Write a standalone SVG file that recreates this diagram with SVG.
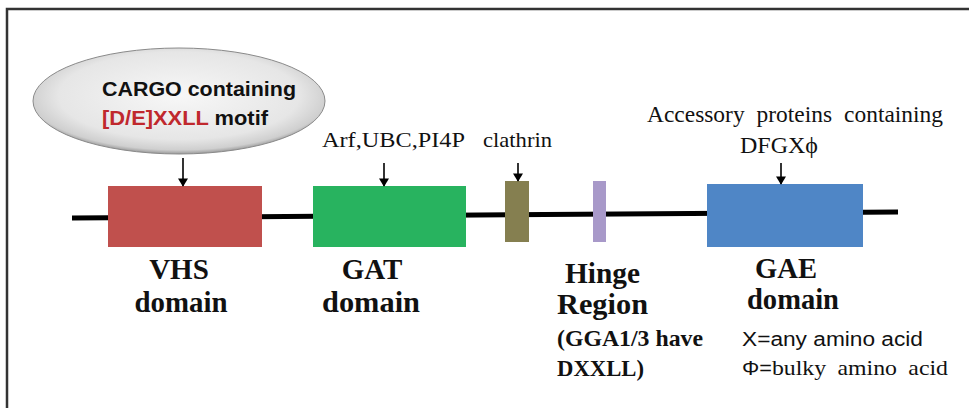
<svg xmlns="http://www.w3.org/2000/svg" width="969" height="408" viewBox="0 0 969 408">
<style>
.serif{font-family:"Liberation Serif","Times New Roman",serif;fill:#111}
.b{font-weight:bold}
.sans{font-family:"Liberation Sans",Arial,sans-serif;fill:#111}
.arrow{stroke:#000;stroke-width:1.6;fill:none;marker-end:url(#ah)}
</style>
<defs>
<marker id="ah" viewBox="0 0 10 12" refX="9" refY="6" markerWidth="12" markerHeight="10" markerUnits="userSpaceOnUse" orient="auto">
<path d="M0,0 L10,6 L0,12 z" fill="#000"/>
</marker>
<radialGradient id="eg" cx="0.5" cy="0.45" r="0.55">
<stop offset="0" stop-color="#f7f7f7"/>
<stop offset="0.75" stop-color="#e6e6e6"/>
<stop offset="0.93" stop-color="#cfcfcf"/>
<stop offset="1" stop-color="#9a9a9a"/>
</radialGradient>
</defs>
<rect x="0" y="0" width="969" height="408" fill="#fff"/>
<path d="M7,408 V9 H969" fill="none" stroke="#333" stroke-width="2.5"/>

<g id="backbone">
<line x1="72" y1="218" x2="898" y2="212" stroke="#000" stroke-width="5"/>
</g>

<g id="cargo">
<ellipse cx="179" cy="101" rx="146" ry="53" fill="url(#eg)" stroke="#8a8a8a" stroke-width="1"/>
<text x="102" y="96" class="sans b" font-size="21" textLength="194" lengthAdjust="spacingAndGlyphs">CARGO containing</text>
<text x="102" y="125" class="sans b" font-size="21" textLength="166" lengthAdjust="spacingAndGlyphs"><tspan fill="#c0282d">[D/E]XXLL</tspan> motif</text>
</g>

<g id="vhs">
<rect x="108" y="186" width="154" height="61" fill="#c0504d"/>
<text x="179" y="279" class="serif b" font-size="29" text-anchor="middle">VHS</text>
<text x="181" y="312" class="serif b" font-size="29" text-anchor="middle" textLength="93" lengthAdjust="spacingAndGlyphs">domain</text>
</g>

<g id="gat">
<rect x="313" y="186" width="153" height="61" fill="#28b35f"/>
<text x="372" y="279" class="serif b" font-size="29" text-anchor="middle">GAT</text>
<text x="371" y="312" class="serif b" font-size="29" text-anchor="middle" textLength="98" lengthAdjust="spacingAndGlyphs">domain</text>
<text x="322" y="147" class="serif" font-size="22" textLength="143" lengthAdjust="spacingAndGlyphs">Arf,UBC,PI4P</text>
</g>

<g id="clathrin">
<rect x="505" y="181" width="24" height="61" fill="#857f50"/>
<text x="483" y="147" class="serif" font-size="22" textLength="69" lengthAdjust="spacingAndGlyphs">clathrin</text>
</g>

<g id="hinge">
<rect x="593" y="181" width="13" height="61" fill="#a899c9"/>
<text x="565" y="283" class="serif b" font-size="29" textLength="75" lengthAdjust="spacingAndGlyphs">Hinge</text>
<text x="557" y="314" class="serif b" font-size="29" textLength="91" lengthAdjust="spacingAndGlyphs">Region</text>
<text x="557" y="346" class="serif b" font-size="23" textLength="146" lengthAdjust="spacingAndGlyphs">(GGA1/3 have</text>
<text x="557" y="376" class="serif b" font-size="23" textLength="87" lengthAdjust="spacingAndGlyphs">DXXLL)</text>
</g>

<g id="gae">
<rect x="707" y="184" width="156" height="63" fill="#4f86c6"/>
<text x="755" y="278" class="serif b" font-size="29" textLength="62" lengthAdjust="spacingAndGlyphs">GAE</text>
<text x="747" y="309" class="serif b" font-size="29" textLength="92" lengthAdjust="spacingAndGlyphs">domain</text>
<text x="647" y="122" class="serif" font-size="23" textLength="296" lengthAdjust="spacingAndGlyphs" word-spacing="6">Accessory proteins containing</text>
<text x="740" y="153" class="serif" font-size="23" textLength="78" lengthAdjust="spacingAndGlyphs">DFGXϕ</text>
<text x="742" y="346" class="sans" font-size="20" textLength="181" lengthAdjust="spacingAndGlyphs">X=any amino acid</text>
<text x="742" y="375" font-size="22" textLength="206" lengthAdjust="spacingAndGlyphs" word-spacing="5"><tspan class="sans" font-size="20">Φ=</tspan><tspan class="serif">bulky amino acid</tspan></text>
</g>

<g id="connectors">
<line class="arrow" x1="183" y1="158" x2="183" y2="186"/>
<line class="arrow" x1="384" y1="163" x2="384" y2="186"/>
<line class="arrow" x1="518" y1="163" x2="518" y2="181"/>
<line class="arrow" x1="781" y1="163" x2="781" y2="184"/>
</g>
</svg>
